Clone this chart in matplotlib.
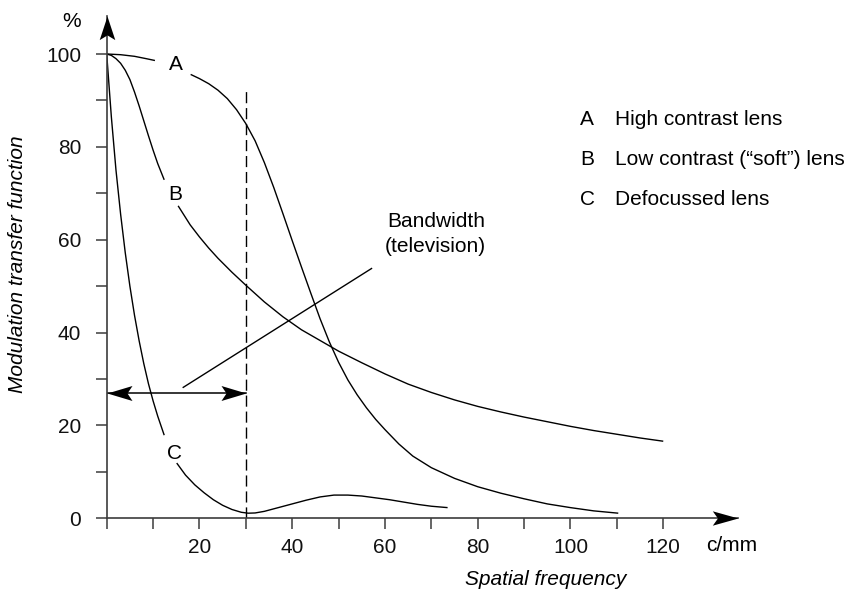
import numpy as np
import matplotlib
matplotlib.use("Agg")
import matplotlib.pyplot as plt
from matplotlib.path import Path

plt.rcParams['font.family'] = ['Liberation Sans', 'DejaVu Sans']

# ---- data -------------------------------------------------------------
# A: high contrast lens
freq_A = [0, 3, 6, 8.5, 10.4, 18.1, 20, 22, 24, 26, 28, 30, 32, 34, 36, 38, 40,
          42, 44, 46, 48, 50, 52, 54, 56, 58, 60, 63, 66, 70, 75, 80, 85, 90,
          95, 100, 105, 110.3]
mtf_A = [100, 99.85, 99.5, 99.0, 98.6, 95.6, 94.7, 93.6, 92.2, 90.4, 88.0, 85.0,
         81.3, 76.6, 71.3, 65.6, 59.8, 54.1, 48.5, 43.0, 38.0, 33.6, 29.8, 26.6,
         23.8, 21.3, 19.1, 16.0, 13.4, 10.9, 8.6, 6.8, 5.4, 4.2, 3.1, 2.3, 1.6, 1.1]

# B: low contrast ("soft") lens
freq_B = [0, 1, 2, 3, 4, 5, 6, 7, 8, 9, 10, 11, 12.4, 15.4, 18, 20, 22, 24, 27,
          30, 34, 38, 42, 46, 50, 55, 60, 65, 70, 75, 80, 85, 90, 95, 100, 105,
          110, 115, 120]
mtf_B = [100, 99.7, 99.0, 98.0, 96.5, 94.5, 91.8, 88.8, 85.6, 82.4, 79.3, 76.4,
         72.9, 67.3, 63.2, 60.6, 58.2, 56.0, 53.0, 50.2, 46.6, 43.4, 40.6, 38.3,
         36.0, 33.5, 31.1, 28.9, 27.1, 25.5, 24.1, 22.9, 21.8, 20.8, 19.8, 18.9,
         18.1, 17.3, 16.6]

# C: defocussed lens
freq_C = [0, 1, 2, 3, 4, 5, 6, 7, 8, 9, 10, 11, 12.4, 15.1, 17, 19, 21, 23, 25,
          27, 29, 30.5, 32, 34, 37, 40, 43, 46, 49, 52, 55, 58, 61, 64, 67, 70, 73.5]
mtf_C = [100, 86.5, 75.0, 65.5, 57.2, 50.0, 43.7, 38.2, 33.3, 29.0, 25.3, 22.0,
         17.9, 11.9, 9.3, 7.2, 5.5, 4.0, 2.8, 1.9, 1.3, 1.1, 1.15, 1.5, 2.3, 3.1,
         3.9, 4.6, 5.0, 5.0, 4.8, 4.4, 4.0, 3.5, 3.0, 2.6, 2.3]

bandwidth_limit = 30      # c/mm, television bandwidth
bandwidth_level = 27      # % level of the bandwidth arrow
bandwidth_pointer_x = [16.5, 57.1]
bandwidth_pointer_y = [28.2, 53.8]
dashed_top = 92

x_major = [20, 40, 60, 80, 100, 120]
x_minor = [0, 10, 30, 50, 70, 90, 110]
y_major = [0, 20, 40, 60, 80, 100]
y_minor = [10, 30, 50, 70, 90]

legend_keys = ['A', 'B', 'C']
legend_text = ['High contrast lens', 'Low contrast (\u201csoft\u201d) lens', 'Defocussed lens']

# ---- figure -----------------------------------------------------------
W, H = 847, 592
FS = 15
fig = plt.figure(figsize=(W / 100, H / 100), dpi=100)
x0_px, y0_px = 106.7, 518.3
xend_px, yend_px = 738.0, 16.0
sx, sy = 4.638, 4.643
ax = fig.add_axes([x0_px / W, (H - y0_px) / H, (xend_px - x0_px) / W, (y0_px - yend_px) / H])
xmax = (xend_px - x0_px) / sx
ymax = (y0_px - yend_px) / sy
ax.set_xlim(0, xmax)
ax.set_ylim(0, ymax)

axis_col = '#3c3c3c'
for s in ('top', 'right'):
    ax.spines[s].set_visible(False)
for s in ('left', 'bottom'):
    ax.spines[s].set_color(axis_col)
    ax.spines[s].set_linewidth(1.2)

ax.set_xticks(x_major)
ax.set_xticks(x_minor, minor=True)
ax.set_yticks(y_major)
ax.set_yticks(y_minor, minor=True)
ax.set_xticklabels([str(v) for v in x_major])
ax.set_yticklabels([str(v) for v in y_major])
ax.tick_params(which='both', direction='out', length=8, width=1.1, color=axis_col,
               labelsize=FS, labelcolor='#111111')
ax.tick_params(axis='x', which='both', pad=6.5)
ax.tick_params(axis='y', which='both', pad=10.5)


def stealth(length, half_width, notch, angle_deg):
    v = np.array([[0, 0], [-length, half_width], [-notch, 0], [-length, -half_width], [0, 0]], float)
    a = np.deg2rad(angle_deg)
    R = np.array([[np.cos(a), -np.sin(a)], [np.sin(a), np.cos(a)]])
    v = v @ R.T
    return Path(v, [Path.MOVETO, Path.LINETO, Path.LINETO, Path.LINETO, Path.CLOSEPOLY])


# axis arrowheads
ax.plot([xmax], [0], marker=stealth(1, 0.28, 0.8, 0), ms=37, mew=0, color='black',
        clip_on=False, zorder=5)
ax.plot([0], [ymax], marker=stealth(1, 0.33, 0.8, 90), ms=34, mew=0, color='black',
        clip_on=False, zorder=5)

lw = 1.0
# curves with gaps where the letter labels sit
gaps = {'A': (10.4, 18.1), 'B': (12.4, 15.4), 'C': (12.4, 15.1)}
label_pos = {'A': (14.83, 96.55), 'B': (14.73, 68.55), 'C': (14.66, 12.7)}
for key, fx, fy in (('A', freq_A, mtf_A), ('B', freq_B, mtf_B), ('C', freq_C, mtf_C)):
    fx = np.asarray(fx)
    fy = np.asarray(fy)
    g0, g1 = gaps[key]
    m1 = fx <= g0
    m2 = fx >= g1
    ax.plot(fx[m1], fy[m1], color='black', lw=lw, solid_capstyle='butt', solid_joinstyle='round')
    ax.plot(fx[m2], fy[m2], color='black', lw=lw, solid_capstyle='butt', solid_joinstyle='round')
    ax.text(*label_pos[key], key, fontsize=FS, ha='center', va='baseline')

# bandwidth marker
ax.plot([bandwidth_limit, bandwidth_limit], [0, dashed_top], color='black', lw=1.0,
        linestyle=(0, (8, 3.5)))
ax.plot([0, bandwidth_limit], [bandwidth_level, bandwidth_level], color='black', lw=1.1)
ax.plot([0], [bandwidth_level], marker=stealth(1, 0.3, 0.8, 180), ms=36, mew=0,
        color='black', clip_on=False, zorder=5)
ax.plot([bandwidth_limit], [bandwidth_level], marker=stealth(1, 0.3, 0.8, 0), ms=36, mew=0,
        color='black', clip_on=False, zorder=5)
ax.plot(bandwidth_pointer_x, bandwidth_pointer_y, color='black', lw=lw)
ax.text(70.96, 62.8, 'Bandwidth', fontsize=FS, ha='center', va='baseline')
ax.text(70.96, 57.4, '(television)', fontsize=FS, ha='center', va='baseline')

# key
key_y = [84.7, 76.1, 67.5]
for k, t, yy in zip(legend_keys, legend_text, key_y):
    ax.text(102.05, yy, k, fontsize=FS, ha='left', va='baseline')
    ax.text(109.6, yy, t, fontsize=FS, ha='left', va='baseline')

# axis titles and units
fig.text(71.5 / W, 1 - 21.5 / H, '%', fontsize=FS, ha='center', va='center')
fig.text(706.0 / W, 1 - 550.7 / H, 'c/mm', fontsize=FS, ha='left', va='baseline')
fig.text(546 / W, 1 - 585 / H, 'Spatial frequency', fontsize=FS, ha='center',
         va='baseline', style='italic')
fig.text(18 / W, 1 - 264.5 / H, 'Modulation transfer function', fontsize=FS,
         ha='center', va='center', rotation=90, style='italic')

fig.savefig('out.png', dpi=100)
